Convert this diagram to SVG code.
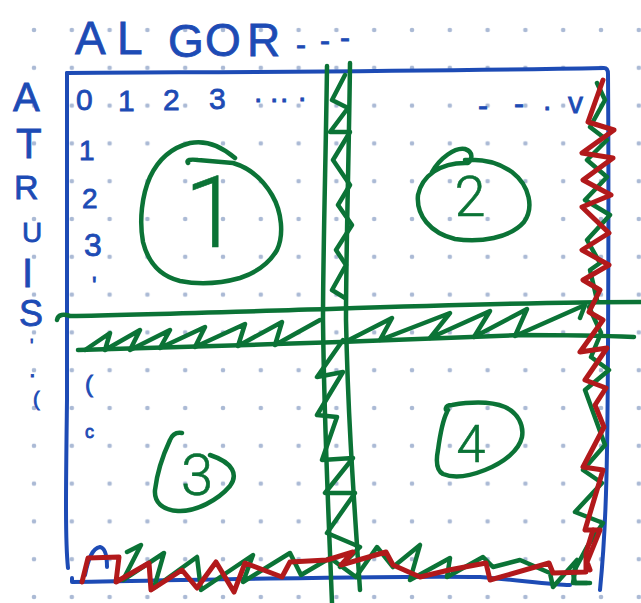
<svg xmlns="http://www.w3.org/2000/svg" width="641" height="603" viewBox="0 0 641 603">
<defs>
<pattern id="dots" x="15.1" y="11.1" width="37.8" height="37.8" patternUnits="userSpaceOnUse">
<circle cx="18.9" cy="18.9" r="2.3" fill="#abbad5"/>
</pattern>
<style>
.b{stroke:#1d4bb5;stroke-width:4;fill:none;stroke-linecap:round;stroke-linejoin:round}
.g{stroke:#0b7336;stroke-width:4.5;fill:none;stroke-linecap:round;stroke-linejoin:round}
.r{stroke:#b2191b;stroke-width:5;fill:none;stroke-linecap:round;stroke-linejoin:round}
.tb{fill:#1d4bb5;stroke:#1d4bb5;stroke-width:0.8;font-family:"Liberation Sans",Arial,sans-serif}
.tg{fill:#0b7336;stroke:#0b7336;stroke-width:0.6;font-family:Roboto,"Liberation Sans",Arial,sans-serif;font-weight:300;text-anchor:middle}
</style>
</defs>
<rect width="641" height="603" fill="#ffffff"/>
<rect width="641" height="603" fill="url(#dots)"/>

<g id="frame">
<path class="b" d="M67,73 C200,72 400,72 604,68 C607,68 608,70 608,74 C609,200 608,400 607,450 C606,520 603,560 600,590"/>
<path class="b" d="M67,73 L67,400 C66,480 65,540 68,568"/>
<path class="b" d="M72,578 L72,582 C200,580 400,575 480,577 C520,580 550,585 570,585"/>
<path class="b" d="M85,575 C88,560 92,548 100,547 C106,548 107,560 107,567"/>
</g>

<g id="connectors">
<path class="g" d="M327,66 C326,150 323,250 323,320 C324,420 328,500 332,603"/>
<path class="g" d="M350,63 C349,150 346,250 346,320 C348,420 354,500 360,590"/>
<path class="g" d="M345,75 L332,100 L348,108 L330,132 L350,132 L333,160 L350,185 L338,205 L352,225 L336,250 L346,265 L332,290 L345,298"/>
<path class="g" d="M343,340 L317,377 L343,372 L317,415 L337,417 L322,460 L353,458 L325,493 L355,493 L327,533 L360,547 L340,567"/>
<path class="g" d="M57,320 C58,314 64,314 70,316 C150,315 250,311 330,309 C450,305 550,302 641,302"/>
<path class="g" d="M78,350 C150,348 250,345 340,342 C420,339 480,336 520,335 C580,335 610,336 634,337"/>
<path class="g" d="M85,350 L110,333 L105,350 L140,330 L130,350 L170,330 L160,348 L205,327 L195,347 L245,324 L238,346 L282,322 L275,345 L320,320"/>
<path class="g" d="M345,342 L392,318 L380,340 L450,313 L430,338 L490,311 L474,337 L527,309 L515,336 L585,305 L580,318"/>
<path class="g" d="M597,83 L605,100 L590,127 L607,140 L587,160 L607,177 L585,200 L610,215 L587,240 L600,263 L590,270 L597,300 L589,307 L601,333 L591,357 L609,370 L585,390 L605,445 L583,470 L602,483 L575,512 L603,523 L587,547 L573,573 L575,583 L590,583"/>
<path class="g" d="M127,552 L141,545 L123,580 L164,553 L154,588 L197,557 L201,590 L253,555 L243,582 L290,553 L301,575 L330,558 L356,577 L377,547 L393,567 L420,545 L410,580 L450,558 L447,577 L483,557 L493,567 L520,560 L550,573 L553,587 L577,560 L573,583 L587,583"/>
<path class="r" d="M603,80 L588,122 L614,130 L582,153 L613,158 L583,180 L611,195 L582,207 L609,233 L582,250 L609,265 L583,280 L600,290 L589,312 L603,320 L580,352 L607,348 L585,380 L606,388 L595,405 L604,427 L583,467 L603,470 L585,530 L600,530 L587,562 L590,570"/>
<path class="r" d="M82,582 L88,558 L119,557 L116,582 L149,563 L151,590 L182,570 L197,588 L216,562 L234,592 L245,563 L282,577 L290,562 L327,560 L353,552 L341,565 L386,552 L393,565 L420,577 L449,570 L486,563 L490,580 L549,563 L553,573 L586,572 L586,553 L593,530"/>
</g>

<g id="header">
<text class="tb" font-size="46"><tspan x="75" y="54">A</tspan><tspan x="117" y="54">L</tspan><tspan x="168" y="57">G</tspan><tspan x="205" y="56">O</tspan><tspan x="247" y="56">R</tspan></text>
<text class="tb" font-size="30"><tspan x="296" y="55">-</tspan><tspan x="320" y="51">-</tspan><tspan x="340" y="48">-</tspan></text>
<text class="tb" font-size="30"><tspan x="76" y="110">0</tspan><tspan x="118" y="111">1</tspan><tspan x="163" y="110">2</tspan><tspan x="209" y="109">3</tspan><tspan x="254" y="102">.</tspan><tspan x="270" y="102">.</tspan><tspan x="280" y="102">.</tspan><tspan x="298" y="101">.</tspan></text>
<text class="tb" font-size="30"><tspan x="478" y="116">-</tspan><tspan x="514" y="114">-</tspan><tspan x="543" y="110">.</tspan><tspan x="568" y="113">v</tspan></text>
</g>

<g id="row-labels">
<text class="tb" font-size="40" x="13" y="111">A</text>
<text class="tb" font-size="42" x="16" y="158">T</text>
<text class="tb" font-size="34" x="14" y="199">R</text>
<text class="tb" font-size="28" x="22" y="242">U</text>
<text class="tb" font-size="40" x="22" y="287">I</text>
<text class="tb" font-size="36" x="19" y="326">S</text>
<text class="tb" font-size="18" x="30" y="352">'</text>
<text class="tb" font-size="24" x="29" y="377">.</text>
<text class="tb" font-size="20" x="33" y="406">(</text>
<text class="tb" font-size="28" x="79" y="160">1</text>
<text class="tb" font-size="28" x="82" y="208">2</text>
<text class="tb" font-size="32" x="84" y="256">3</text>
<text class="tb" font-size="24" x="92" y="294">'</text>
<text class="tb" font-size="24" x="85" y="392">(</text>
<text class="tb" font-size="18" x="85" y="438">c</text>
</g>

<g id="node-1">
<path class="g" d="M188,163 C186,160 190,159 198,160 L233,163 C250,168 262,178 272,195 C282,212 284,235 277,250 C270,262 258,272 240,278 C222,283 200,285 180,281 C160,276 148,262 143,242 C139,220 142,195 150,177 C158,160 170,148 190,143 C205,140 220,145 235,158"/>
<text class="tg" font-size="100" x="212" y="247">1</text>
</g>
<g id="node-2">
<path class="g" d="M432,172 C440,158 455,147 465,149 C474,152 472,160 468,163 C440,162 422,176 418,195 C416,215 430,233 455,239 C480,243 510,238 524,222 C534,208 530,186 512,172 C498,162 480,159 465,160"/>
<text class="tg" font-size="56" x="470" y="216">2</text>
</g>
<g id="node-3">
<path class="g" d="M182,433 C176,432 172,435 170,440 C163,455 157,473 155,490 C154,502 162,510 178,511 C196,512 218,500 230,486 C238,475 234,463 210,455"/>
<text class="tg" font-size="58" x="197" y="495">3</text>
</g>
<g id="node-4">
<path class="g" d="M448,410 C445,412 444,405 452,405 C470,402 490,401 505,407 C518,413 524,425 522,437 C519,450 505,462 485,470 C470,476 455,479 443,474 C436,470 436,460 438,450 C440,435 443,420 447,412"/>
<text class="tg" font-size="52" x="471" y="462">4</text>
</g>
</svg>
